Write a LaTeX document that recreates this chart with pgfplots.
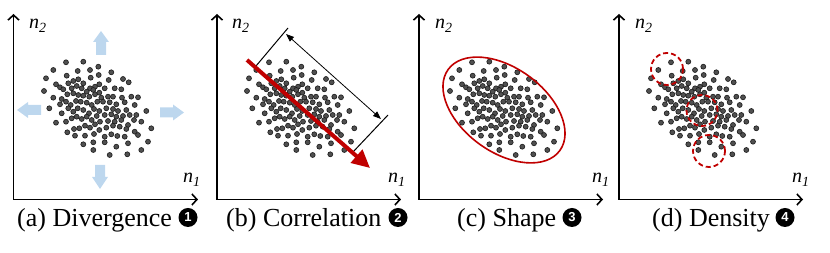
\documentclass[border=0pt]{standalone}
\usepackage{pgfplots}
\pgfplotsset{compat=1.18}
\usepackage{pgfplotstable}
\usepackage{fontspec}
\setmainfont{Liberation Serif}
\newfontfamily\seriffont{Liberation Serif}
\newfontfamily\badgefont{Liberation Sans}
\usetikzlibrary{arrows.meta}
\definecolor{dotfill}{RGB}{80,80,80}
\definecolor{darkred}{RGB}{192,0,0}
\definecolor{lightblue}{RGB}{189,215,238}

\pgfplotstableread{
x y
66.0 62.3
83.3 61.7
53.3 70
77.7 71
90 70
98.3 66.7
46 78.3
66.7 75.7
90.7 77.7
98.7 75
56 84.3
60 87.3
68.3 83.3
73.3 81
78.3 79.3
83.3 83.3
90 88.3
95 86.7
99.3 84.3
44 91
63.3 89.3
71.7 88.3
76.7 86
81.7 88.3
86.7 91.7
93.3 90
53.3 97.7
61.7 99
67.3 94.3
73.3 93.3
78.3 95
83.3 95.7
89.3 96.7
95 94.3
99.3 92.7
49.3 108.3
60 104.3
66 101.7
70.7 105
76 101
80.7 101.7
86.7 102.7
91.7 105
97.3 101.7
61.7 113.3
68.3 108.3
73.3 111.7
77.7 108.3
83.3 110
89 113.3
94 109
99.3 111
56 122.7
66 121.7
71.7 118.3
76.7 116.7
81.7 119
86.7 116.7
91.7 120
96.7 116
67.3 132.3
74 129
79.3 128.3
85 125.7
90 127.7
95 124.3
100 121.7
75 135.7
85 135.7
94 134
99.3 130
83.3 144.3
93.3 142.3
93.3 150
111.3 72.3
108.7 80
123 79
128.7 82.3
104.7 88.3
114.7 88.3
121.3 89.3
101.3 97.7
108 96.7
113 96.7
122 97.7
131.3 96.7
138 97.3
103 101.7
109.7 102.3
116.3 104.3
124.7 102.3
134.7 105
106.3 108.3
113 109
118 111
126.3 110
146.3 111
104.7 115
111.3 114.3
116.3 116.7
123 116
129.7 115
136.3 115
141.3 121.7
108 121
114.7 121.7
121.3 120
128 125
134 120
106.3 127.7
113 125.7
119.7 126.7
126.3 129
134.7 131.7
138 135
151.3 128.3
104.7 136.7
111.3 134.3
117.3 136
124.7 136.7
104.7 142.3
128 143.3
148 141.7
116.3 146.7
141.3 150
109.7 155
127.3 154.3
}\cloud

\begin{document}
\begin{tikzpicture}
\begin{axis}[scale only axis, width=830pt, height=253pt,
  xmin=0, xmax=830, ymin=0, ymax=253, y dir=reverse,
  hide axis, clip=false, set layers]

% fix the picture's extent to the full 830 x 253 frame
\path (axis cs:0,0) rectangle (axis cs:830,253);

% light blue block arrows (panel a)
\fill[lightblue] (axis cs:101,31) -- (axis cs:109,42) -- (axis cs:106,42) -- (axis cs:106,55) -- (axis cs:96,55) -- (axis cs:96,42) -- (axis cs:93,42) -- cycle;
\fill[lightblue] (axis cs:100,189) -- (axis cs:108,177) -- (axis cs:105,177) -- (axis cs:105,165) -- (axis cs:95,165) -- (axis cs:95,177) -- (axis cs:92,177) -- cycle;
\fill[lightblue] (axis cs:17,110) -- (axis cs:28,102) -- (axis cs:28,105) -- (axis cs:41,105) -- (axis cs:41,115) -- (axis cs:28,115) -- (axis cs:28,118) -- cycle;
\fill[lightblue] (axis cs:184,112.5) -- (axis cs:173,104.5) -- (axis cs:173,107.5) -- (axis cs:160,107.5) -- (axis cs:160,117.5) -- (axis cs:173,117.5) -- (axis cs:173,120.5) -- cycle;

% coordinate axes
\draw[line width=1.6pt, line join=miter, {Straight Barb[length=5pt,width=11pt]}-{Straight Barb[length=5pt,width=11pt]}] (axis cs:13.5,14) -- (axis cs:13.5,199.5) -- (axis cs:198,199.5);
\draw[line width=1.6pt, line join=miter, {Straight Barb[length=5pt,width=11pt]}-{Straight Barb[length=5pt,width=11pt]}] (axis cs:217,14) -- (axis cs:217,199.5) -- (axis cs:401,199.5);
\draw[line width=1.6pt, line join=miter, {Straight Barb[length=5pt,width=11pt]}-{Straight Barb[length=5pt,width=11pt]}] (axis cs:419,14) -- (axis cs:419,199.5) -- (axis cs:603,199.5);
\draw[line width=1.6pt, line join=miter, {Straight Barb[length=5pt,width=11pt]}-{Straight Barb[length=5pt,width=11pt]}] (axis cs:619,14) -- (axis cs:619,199.5) -- (axis cs:803,199.5);

% dot clouds
\addplot[only marks, mark=*, mark size=2.5pt, mark options={fill=dotfill, draw=black!90, line width=0.6pt}] table[x expr=\thisrow{x}, y=y] {\cloud};
\addplot[only marks, mark=*, mark size=2.5pt, mark options={fill=dotfill, draw=black!90, line width=0.6pt}] table[x expr=\thisrow{x}+203, y=y] {\cloud};
\addplot[only marks, mark=*, mark size=2.5pt, mark options={fill=dotfill, draw=black!90, line width=0.6pt}] table[x expr=\thisrow{x}+406, y=y] {\cloud};
\addplot[only marks, mark=*, mark size=2.5pt, mark options={fill=dotfill, draw=black!90, line width=0.6pt}] table[x expr=\thisrow{x}+605, y=y] {\cloud};

\begin{pgfonlayer}{axis foreground}
% panel b annotations
\draw[black, line width=1pt] (axis cs:256,66) -- (axis cs:288,28);
\draw[black, line width=1pt] (axis cs:353,152) -- (axis cs:388,115);
\draw[black, line width=0.8pt, {Triangle[length=8pt,width=6pt]}-{Triangle[length=8pt,width=6pt]}] (axis cs:286,34) -- (axis cs:381,119);
\draw[darkred, line width=4pt, -{Triangle[length=18pt,width=17pt]}] (axis cs:247,60) -- (axis cs:370,168);

% panel c ellipse
\draw[darkred, line width=1.6pt, rotate around={-36:(axis cs:504,110)}] (axis cs:504,110) ellipse [x radius=69pt, y radius=42pt];

% panel d dashed circles
\draw[darkred, line width=1.8pt, dash pattern=on 5pt off 3pt] (axis cs:667,69) circle[radius=16pt];
\draw[darkred, line width=1.8pt, dash pattern=on 5pt off 3pt] (axis cs:702,110.5) circle[radius=15.5pt];
\draw[darkred, line width=1.8pt, dash pattern=on 5pt off 3pt] (axis cs:709,151) circle[radius=16pt];
\end{pgfonlayer}

% axis labels
\node[anchor=base west, inner sep=0, font=\seriffont\fontsize{20}{24}\selectfont] at (axis cs:29,29) {\textit{n}\textsubscript{\textit{2}}};
\node[anchor=base west, inner sep=0, font=\seriffont\fontsize{20}{24}\selectfont] at (axis cs:232,29) {\textit{n}\textsubscript{\textit{2}}};
\node[anchor=base west, inner sep=0, font=\seriffont\fontsize{20}{24}\selectfont] at (axis cs:435,29) {\textit{n}\textsubscript{\textit{2}}};
\node[anchor=base west, inner sep=0, font=\seriffont\fontsize{20}{24}\selectfont] at (axis cs:635,29) {\textit{n}\textsubscript{\textit{2}}};
\node[anchor=base west, inner sep=0, font=\seriffont\fontsize{20}{24}\selectfont] at (axis cs:183,183) {\textit{n}\textsubscript{\textit{1}}};
\node[anchor=base west, inner sep=0, font=\seriffont\fontsize{20}{24}\selectfont] at (axis cs:388,183) {\textit{n}\textsubscript{\textit{1}}};
\node[anchor=base west, inner sep=0, font=\seriffont\fontsize{20}{24}\selectfont] at (axis cs:592,183) {\textit{n}\textsubscript{\textit{1}}};
\node[anchor=base west, inner sep=0, font=\seriffont\fontsize{20}{24}\selectfont] at (axis cs:792,183) {\textit{n}\textsubscript{\textit{1}}};

% captions
\node[anchor=base west, inner sep=0, font=\seriffont\fontsize{26}{30}\selectfont] at (axis cs:17,226.5) {(a) Divergence};
\node[anchor=base west, inner sep=0, font=\seriffont\fontsize{26}{30}\selectfont] at (axis cs:226,226.5) {(b) Correlation};
\node[anchor=base west, inner sep=0, font=\seriffont\fontsize{26}{30}\selectfont] at (axis cs:457,226.5) {(c) Shape};
\node[anchor=base west, inner sep=0, font=\seriffont\fontsize{26}{30}\selectfont] at (axis cs:652,226.5) {(d) Density};

\node[circle, fill=black, minimum size=19pt, inner sep=0, text=white, font=\badgefont\bfseries\fontsize{13}{13}\selectfont] at (axis cs:188,217.5) {1};
\node[circle, fill=black, minimum size=19pt, inner sep=0, text=white, font=\badgefont\bfseries\fontsize{13}{13}\selectfont] at (axis cs:398,217.5) {2};
\node[circle, fill=black, minimum size=19pt, inner sep=0, text=white, font=\badgefont\bfseries\fontsize{13}{13}\selectfont] at (axis cs:572,217.5) {3};
\node[circle, fill=black, minimum size=19pt, inner sep=0, text=white, font=\badgefont\bfseries\fontsize{13}{13}\selectfont] at (axis cs:785,217.5) {4};
\end{axis}
\end{tikzpicture}
\end{document}
